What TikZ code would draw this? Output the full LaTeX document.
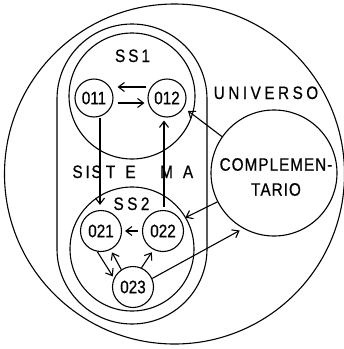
\documentclass[tikz,border=0pt]{standalone}
\usepackage{fontspec}
\setmainfont{Liberation Sans}
\newfontfamily\labfont[FakeStretch=0.85,FakeBold=0.6]{Liberation Sans}
\usetikzlibrary{arrows.meta}
\begin{document}
\begin{tikzpicture}[x=1pt,y=-1pt,line width=1.1pt,
  ring/.style={draw,circle,inner sep=0pt},
  obj/.style={ring,minimum size=#1,font=\labfont\fontsize{18}{18}\selectfont},
  lab/.style={inner sep=0pt,font=\labfont\fontsize{18}{18}\selectfont},
  arr/.style={-{Straight Barb[length=6pt,width=9pt]}}]
\useasboundingbox (0,0) rectangle (344,349);
% universe
\node[ring,minimum size=340pt] (univ) at (174.5,174) {};
% system
\draw[rounded corners=75pt] (57,24) rectangle (207,324);
% subsystems
\node[ring,minimum size=126pt] (ss1) at (132,96) {};
\node[ring,minimum size=124pt] (ss2) at (132,249) {};
\node[ring,minimum size=126pt] (comp) at (274,173) {};
% objects
\node[obj=38pt] (o11) at (94,98) {011};
\node[obj=38pt] (o12) at (167,98) {012};
\node[obj=41pt] (o21) at (101,231) {021};
\node[obj=41pt] (o22) at (163,231) {022};
\node[obj=41pt] (o23) at (133,287) {023};
% labels
\node[lab,anchor=base] (tss1) at (132.5,62) {S\kern3pt S\kern3pt 1};
\node[lab,anchor=base] (tss2) at (131.5,210) {S\kern3.5pt S\kern3.5pt 2};
\node[lab,anchor=base] (tuni) at (266,99) {U\kern3.5pt N\kern3.5pt I\kern3.5pt V\kern3.5pt E\kern3.5pt R\kern3.5pt S\kern3.5pt O};
\node[lab,anchor=base west] (tsis) at (77,178) {\makebox[0pt]{S}\hspace{10pt}\makebox[0pt]{I}\hspace{9pt}\makebox[0pt]{S}\hspace{14pt}\makebox[0pt]{T}\hspace{20pt}\makebox[0pt]{E}\hspace{36pt}\makebox[0pt]{M}\hspace{21.5pt}\makebox[0pt]{A}};
\node[lab,align=center,font=\labfont\fontsize{18}{25}\selectfont] (tcomp) at (276,177) {C\kern1pt O\kern1pt M\kern1pt P\kern1pt L\kern1pt E\kern1pt M\kern1pt E\kern1pt N\kern1pt -\\T\kern0pt A\kern1pt R\kern1pt I\kern1pt O};
% connectors
\draw[arr] ([shift={(-1pt,11pt)}]o12.west) -- ([shift={(4pt,11pt)}]o11.east);
\draw[arr] ([shift={(4pt,-5pt)}]o11.east) -- ([shift={(-3pt,-5pt)}]o12.west);
\draw[arr] ([xshift=6pt]o11.south) -- ([shift={(-1pt,5pt)}]o21.north);
\draw[arr] ([shift={(1pt,3pt)}]o22.north) -- ([shift={(-3pt,-3pt)}]o12.south);
\draw[arr] ([xshift=-4pt]o22.west) -- ([xshift=3pt]o21.east);
\draw[arr,shorten >=2pt] (o21.260) -- (o23.155);
\draw[arr,shorten >=3pt] (o23.124) -- (o21.297);
\draw[arr,shorten >=3pt] (o23.66) -- (o22.243);
\draw[arr,shorten >=5pt] (comp.145) -- (o12.330);
\draw[arr,shorten >=5pt] (comp.207) -- (o22.32);
\draw[arr,shorten >=4pt] (o23.24) -- (comp.241);
\end{tikzpicture}
\end{document}
